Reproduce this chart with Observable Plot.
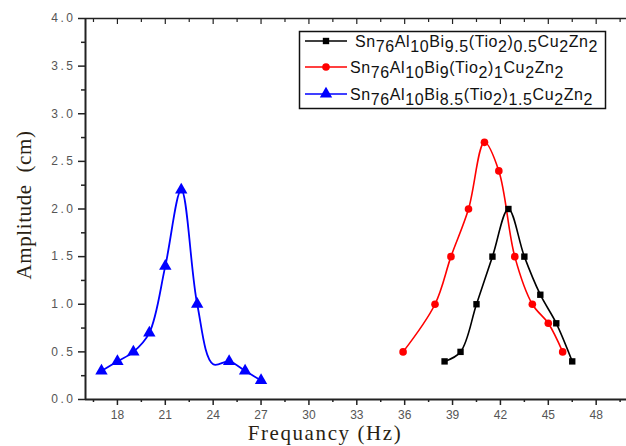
<!DOCTYPE html>
<html>
<head>
<meta charset="utf-8">
<script src="https://cdn.jsdelivr.net/npm/d3@7"></script>
<script src="https://cdn.jsdelivr.net/npm/@observablehq/plot@0.6"></script>
<style>
  html, body { margin: 0; padding: 0; background: #fff; }
  #chart { width: 626px; height: 446px; overflow: hidden; }
</style>
</head>
<body>
<div id="chart"></div>
<script>
// ---- data ----
const freqBlack = [38.5, 39.5, 40.5, 41.5, 42.5, 43.5, 44.5, 45.5, 46.5];
const ampBlack  = [0.4, 0.5, 1.0, 1.5, 2.0, 1.5, 1.1, 0.8, 0.4];
const freqRed   = [35.9, 37.9, 38.9, 40.0, 41.0, 41.9, 42.9, 44.0, 45.0, 45.9];
const ampRed    = [0.5, 1.0, 1.5, 2.0, 2.7, 2.4, 1.5, 1.0, 0.8, 0.5];
const freqBlue  = [17, 18, 19, 20, 21, 22, 23, 25, 26, 27];
const ampBlue   = [0.3, 0.4, 0.5, 0.7, 1.4, 2.2, 1.0, 0.4, 0.3, 0.2];
// the blue curve (no symbol) also passes through this point
const freqBlueCurve = [17, 18, 19, 20, 21, 22, 23, 24, 25, 26, 27];
const ampBlueCurve  = [0.3, 0.4, 0.5, 0.7, 1.4, 2.2, 1.0, 0.37, 0.4, 0.3, 0.2];

const xMajorTicks = [18, 21, 24, 27, 30, 33, 36, 39, 42, 45, 48];
const xMinorTicks = [16.5, 19.5, 22.5, 25.5, 28.5, 31.5, 34.5, 37.5, 40.5, 43.5, 46.5, 49.5];
const yMajorTicks = [0, 0.5, 1.0, 1.5, 2.0, 2.5, 3.0, 3.5, 4.0];
const yMinorTicks = [0.25, 0.75, 1.25, 1.75, 2.25, 2.75, 3.25, 3.75];

const xTitle = "Frequancy (Hz)";
const yTitle = "Amplitude  (cm)";

const seriesNames = [
  [["Sn",0],["76",1],["Al",0],["10",1],["Bi",0],["9.5",1],["(Tio",0],["2",1],[")",0],["0.5",1],["Cu",0],["2",1],["Zn",0],["2",1]],
  [["Sn",0],["76",1],["Al",0],["10",1],["Bi",0],["9",1],["(Tio",0],["2",1],[")",0],["1",1],["Cu",0],["2",1],["Zn",0],["2",1]],
  [["Sn",0],["76",1],["Al",0],["10",1],["Bi",0],["8.5",1],["(Tio",0],["2",1],[")",0],["1.5",1],["Cu",0],["2",1],["Zn",0],["2",1]]
];
const seriesColors  = ["#000000", "#ff0000", "#0000ff"];
const seriesSymbols = ["square", "circle", "triangle"];
const seriesR       = [3.6, 3.8, 4.6];

const toRows = (fx, fy, s) => fx.map((f, i) => ({f, a: fy[i], s}));
const black = toRows(freqBlack, ampBlack, 0);
const red   = toRows(freqRed, ampRed, 1);
const blue  = toRows(freqBlue, ampBlue, 2);
const blueCurve = toRows(freqBlueCurve, ampBlueCurve, 2);

const serif = "'Liberation Serif', 'Times New Roman', serif";
const sans  = "'Liberation Sans', Arial, sans-serif";
const curve = "catmull-rom";

const plot = Plot.plot({
  width: 626,
  height: 446,
  marginLeft: 85,
  marginRight: 0,
  marginTop: 18,
  marginBottom: 47,
  style: {fontFamily: sans, background: "#fff", overflow: "visible"},
  x: {domain: [16, 49.9]},
  y: {domain: [0, 4]},
  marks: [
    // bottom axis
    Plot.axisX({ticks: xMajorTicks, tickSize: 6, tickPadding: 5, tickFormat: d => String(d), fontSize: 12, fill: "#555", stroke: "#222", strokeWidth: 1.5, label: null}),
    Plot.axisX({ticks: xMinorTicks, tickSize: 3, text: null, stroke: "#222", strokeWidth: 1.5, label: null}),
    // top axis (inward ticks)
    Plot.axisX({anchor: "top", ticks: xMajorTicks, tickSize: -5, text: null, stroke: "#222", strokeWidth: 1.2, label: null}),
    Plot.axisX({anchor: "top", ticks: xMinorTicks, tickSize: -3, text: null, stroke: "#222", strokeWidth: 1.2, label: null}),
    // left axis
    Plot.axisY({ticks: yMajorTicks, tickSize: 7, tickPadding: 5, tickFormat: d3.format(".1f"), fontSize: 12, fill: "#555", stroke: "#222", strokeWidth: 1.5, label: null}),
    Plot.axisY({ticks: yMinorTicks, tickSize: 4, text: null, stroke: "#222", strokeWidth: 1.5, label: null}),
    Plot.ruleX([16], {stroke: "#222", strokeWidth: 2}),
    Plot.ruleY([0], {stroke: "#222", strokeWidth: 2}),
    Plot.ruleY([4], {stroke: "#222", strokeWidth: 1.5}),
    // axis titles
    Plot.text([xTitle], {frameAnchor: "bottom", textAnchor: "middle", dx: -31, dy: 40, lineAnchor: "bottom", text: d => d, fontFamily: serif, fontSize: 21, fill: "#2a1f14"}),
    Plot.text([yTitle], {frameAnchor: "left", textAnchor: "middle", lineAnchor: "middle", dx: -61, dy: -4, rotate: -90, text: d => d, fontFamily: serif, fontSize: 21, fill: "#2a1f14"}),
    // series
    Plot.line(blueCurve, {x: "f", y: "a", stroke: seriesColors[2], strokeWidth: 1.8, curve}),
    Plot.line(red,   {x: "f", y: "a", stroke: seriesColors[1], strokeWidth: 1.6, curve}),
    Plot.line(black, {x: "f", y: "a", stroke: seriesColors[0], strokeWidth: 1.6, curve}),
    Plot.dot(blue,  {x: "f", y: "a", symbol: seriesSymbols[2], r: seriesR[2], fill: seriesColors[2], stroke: "none"}),
    Plot.dot(red,   {x: "f", y: "a", symbol: seriesSymbols[1], r: seriesR[1], fill: seriesColors[1], stroke: "none"}),
    Plot.dot(black, {x: "f", y: "a", symbol: seriesSymbols[0], r: seriesR[0], fill: seriesColors[0], stroke: "none"})
  ]
});

document.getElementById("chart").appendChild(plot);

const svg = d3.select(plot);
// spacing tweaks to match the reference's wide glyphs
svg.selectAll("text").each(function() {
  const s = this.textContent;
  if (/^\d\.\d$/.test(s)) {
    d3.select(this).attr("letter-spacing", "2.5px").style("letter-spacing", "2.5px").attr("dx", "2");
  } else if (s === xTitle) {
    d3.select(this).style("letter-spacing", "1.6px");
  } else if (s === yTitle) {
    d3.select(this).style("letter-spacing", "0.6px");
  }
});

// ---- legend drawn into the SVG ----
const lg = svg.append("g").attr("font-family", sans).attr("font-size", 16).attr("text-anchor", "start");
lg.append("rect").attr("x", 299.5).attr("y", 31.5).attr("width", 306).attr("height", 77)
  .attr("fill", "#fff").attr("stroke", "#111").attr("stroke-width", 1.5);
const symMap = {square: d3.symbolSquare, circle: d3.symbolCircle, triangle: d3.symbolTriangle};
const rowY = [41, 67, 94];
const textX = [355, 350, 350];
seriesNames.forEach((parts, i) => {
  const y = rowY[i];
  lg.append("line").attr("x1", 305).attr("x2", 347).attr("y1", y).attr("y2", y)
    .attr("stroke", seriesColors[i]).attr("stroke-width", 1.6);
  lg.append("path").attr("transform", `translate(326,${y})`)
    .attr("d", d3.symbol(symMap[seriesSymbols[i]], seriesR[i] * seriesR[i] * Math.PI)())
    .attr("fill", seriesColors[i]);
  const t = lg.append("text").attr("x", textX[i]).attr("y", y + 6).attr("fill", "#111")
    .style("letter-spacing", "0.6px");
  let cur = 0;
  parts.forEach(([s, sub]) => {
    const target = sub ? 5 : 0;
    t.append("tspan").attr("dy", target - cur).text(s);
    cur = target;
  });
});
</script>
</body>
</html>
